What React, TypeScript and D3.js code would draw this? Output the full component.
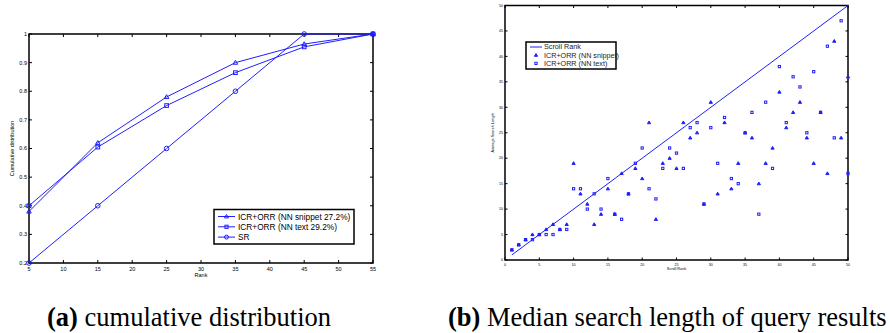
import React, { useEffect, useRef } from "react";
import * as d3 from "d3";

// panel (a): cumulative distribution
const ranks = [5, 15, 25, 35, 45, 55];
const cumSnippet = [0.38, 0.62, 0.78, 0.9, 0.965, 1.0];
const cumText = [0.4, 0.605, 0.75, 0.865, 0.955, 1.0];
const cumSR = [0.2, 0.4, 0.6, 0.8, 1.0, 1.0];
const cumXTicks = [5, 10, 15, 20, 25, 30, 35, 40, 45, 50, 55];
const cumYTicks = [0.2, 0.3, 0.4, 0.5, 0.6, 0.7, 0.8, 0.9, 1];
const cumLegend = ["ICR+ORR (NN snippet 27.2%)", "ICR+ORR (NN text 29.2%)", "SR"];

// panel (b): average search length per scroll rank (x = 1..50)
const scrollRanks = d3.range(1, 51);
const lenSnippet = [
  2, 3, 4, 5, 5, 6, 7, 6, 7, 19,
  13, 11, 7, 9, 14, 9, 17, 13, 18, 16,
  27, 8, 19, 20, 18, 27, 24, 25, 11, 31,
  13, 27, 14, 19, 25, 24, 15, 19, 22, 33,
  26, 29, 31, 24, 19, 29, 17, 43, 24, 36,
];
const lenText = [
  2, 3, 4, 4, 5, 5, 5, 6, 6, 14,
  14, 10, 13, 10, 16, 9, 8, 13, 19, 22,
  14, 12, 18, 22, 21, 18, 26, 27, 11, 26,
  19, 28, 16, 15, 25, 29, 9, 31, 18, 38,
  27, 36, 34, 25, 37, 29, 42, 24, 47, 17,
];
const scatterTicks = [0, 5, 10, 15, 20, 25, 30, 35, 40, 45, 50];
const scatterLegend = ["Scroll Rank", "ICR+ORR (NN snippet)", "ICR+ORR (NN text)"];

const BLUE = "#1f1fff";
const SANS = "'Liberation Sans', Arial, sans-serif";

function frame(g: any, x: any, y: any, xt: number[], yt: number[], tl: number, fs: number, fmtY: (v: number) => string) {
  const [x0, x1] = x.range();
  const [y0, y1] = y.range();
  g.append("rect").attr("x", x0).attr("y", y1).attr("width", x1 - x0).attr("height", y0 - y1)
    .attr("fill", "white").attr("stroke", "black").attr("stroke-width", 1.5);
  xt.forEach((t) => {
    g.append("line").attr("x1", x(t)).attr("x2", x(t)).attr("y1", y0).attr("y2", y0 - tl).attr("stroke", "black");
    g.append("line").attr("x1", x(t)).attr("x2", x(t)).attr("y1", y1).attr("y2", y1 + tl).attr("stroke", "black");
    g.append("text").attr("x", x(t)).attr("y", y0 + fs + 2).attr("text-anchor", "middle")
      .attr("font-size", fs).attr("font-family", SANS).text(t);
  });
  yt.forEach((t) => {
    g.append("line").attr("y1", y(t)).attr("y2", y(t)).attr("x1", x0).attr("x2", x0 + tl).attr("stroke", "black");
    g.append("line").attr("y1", y(t)).attr("y2", y(t)).attr("x1", x1).attr("x2", x1 - tl).attr("stroke", "black");
    g.append("text").attr("x", x0 - 2).attr("y", y(t) + fs * 0.35).attr("text-anchor", "end")
      .attr("font-size", fs).attr("font-family", SANS).text(fmtY(t));
  });
}

function marker(g: any, kind: string, cx: number, cy: number, s: number, fill: string) {
  if (kind === "tri") {
    g.append("path").attr("d", `M${cx},${cy - s}L${cx + s},${cy + s * 0.7}L${cx - s},${cy + s * 0.7}Z`)
      .attr("fill", fill).attr("stroke", BLUE).attr("stroke-width", 1);
  } else if (kind === "sq") {
    g.append("rect").attr("x", cx - s * 0.8).attr("y", cy - s * 0.8).attr("width", s * 1.6).attr("height", s * 1.6)
      .attr("fill", fill).attr("stroke", BLUE).attr("stroke-width", 1);
  } else {
    g.append("circle").attr("cx", cx).attr("cy", cy).attr("r", s)
      .attr("fill", fill).attr("stroke", BLUE).attr("stroke-width", 1);
  }
}

export default function App() {
  const svgRef = useRef<SVGSVGElement>(null);

  useEffect(() => {
    if (!svgRef.current) return;
    const svg = d3.select(svgRef.current);
    svg.selectAll("*").remove();

    // ---- panel (a)
    const xa = d3.scaleLinear().domain([5, 55]).range([29, 373]);
    const ya = d3.scaleLinear().domain([0.2, 1]).range([263, 34]);
    const ga = svg.append("g");
    frame(ga, xa, ya, cumXTicks, cumYTicks, 3, 5.5, (v) => (v === 1 ? "1" : d3.format(".1f")(v)));

    const series = [
      { vals: cumSnippet, kind: "tri" },
      { vals: cumText, kind: "sq" },
      { vals: cumSR, kind: "circ" },
    ];
    const line = d3.line<number>().x((_, i) => xa(ranks[i])).y((d) => ya(d));
    series.forEach((s) => {
      ga.append("path").attr("d", line(s.vals)).attr("fill", "none").attr("stroke", BLUE).attr("stroke-width", 1);
      s.vals.forEach((v, i) => marker(ga, s.kind, xa(ranks[i]), ya(v), 2.3, "none"));
    });

    ga.append("text").attr("x", (29 + 373) / 2).attr("y", 277).attr("text-anchor", "middle")
      .attr("font-size", 5.5).attr("font-family", SANS).text("Rank");
    ga.append("text").attr("transform", `translate(14,${(34 + 263) / 2}) rotate(-90)`).attr("text-anchor", "middle")
      .attr("font-size", 5.5).attr("font-family", SANS).text("Cumulative distribution");

    const la = ga.append("g");
    la.append("rect").attr("x", 214).attr("y", 209.5).attr("width", 140).attr("height", 34.5)
      .attr("fill", "white").attr("stroke", "black").attr("stroke-width", 1.5);
    cumLegend.forEach((label, i) => {
      const ly = 216.5 + i * 10.3;
      la.append("line").attr("x1", 218).attr("x2", 235).attr("y1", ly).attr("y2", ly).attr("stroke", BLUE);
      marker(la, series[i].kind, 226.5, ly, 2, "none");
      la.append("text").attr("x", 238).attr("y", ly + 3).attr("font-size", 8.3).attr("font-family", SANS).text(label);
    });

    // ---- panel (b)
    const xb = d3.scaleLinear().domain([0, 50]).range([505, 848]);
    const yb = d3.scaleLinear().domain([0, 50]).range([260, 5.5]);
    const gb = svg.append("g");
    frame(gb, xb, yb, scatterTicks, scatterTicks, 2.5, 3.6, (v) => String(v));

    gb.append("line").attr("x1", xb(1)).attr("y1", yb(1)).attr("x2", xb(50)).attr("y2", yb(50))
      .attr("stroke", BLUE).attr("stroke-width", 1);
    scrollRanks.forEach((r, i) => {
      marker(gb, "sq", xb(r), yb(lenText[i]), 1.4, "none");
      marker(gb, "tri", xb(r), yb(lenSnippet[i]), 1.6, BLUE);
    });

    gb.append("text").attr("x", (505 + 848) / 2).attr("y", 270).attr("text-anchor", "middle")
      .attr("font-size", 3.8).attr("font-family", SANS).text("Scroll Rank");
    gb.append("text").attr("transform", `translate(494,${(5 + 260) / 2}) rotate(-90)`).attr("text-anchor", "middle")
      .attr("font-size", 3.8).attr("font-family", SANS).text("Average Search Length");

    const lb = gb.append("g");
    lb.append("rect").attr("x", 526).attr("y", 42).attr("width", 90).attr("height", 27)
      .attr("fill", "white").attr("stroke", "black").attr("stroke-width", 1.5);
    scatterLegend.forEach((label, i) => {
      const ly = 47 + i * 8.2;
      if (i === 0) {
        lb.append("line").attr("x1", 530).attr("x2", 542).attr("y1", ly).attr("y2", ly).attr("stroke", BLUE);
      } else if (i === 1) {
        marker(lb, "tri", 536, ly, 1.6, BLUE);
      } else {
        marker(lb, "sq", 536, ly, 1.4, "none");
      }
      lb.append("text").attr("x", 544).attr("y", ly + 2.4).attr("font-size", 7.2).attr("font-family", SANS)
        .attr("fill", "#222").text(label);
    });

    // ---- captions
    const cap = svg.append("g").attr("font-family", "'Liberation Serif', 'DejaVu Serif', serif").attr("font-size", 26.5);
    const ca = cap.append("text").attr("x", 47).attr("y", 326);
    ca.append("tspan").attr("font-weight", "bold").text("(a)");
    ca.append("tspan").text(" cumulative distribution");
    const cb = cap.append("text").attr("x", 448).attr("y", 326);
    cb.append("tspan").attr("font-weight", "bold").text("(b)");
    cb.append("tspan").text(" Median search length of query results");
  }, []);

  return (
    <svg ref={svgRef} width={890} height={333}
      style={{ position: "absolute", left: 0, top: 0, background: "white" }} />
  );
}
